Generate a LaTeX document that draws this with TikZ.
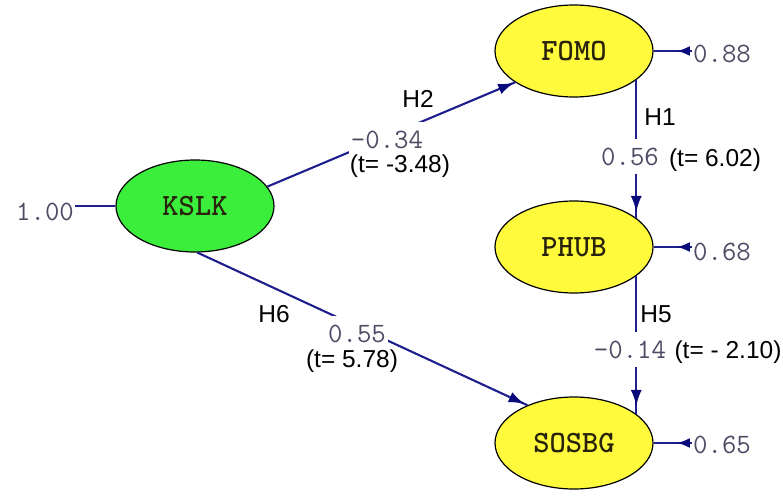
\documentclass[tikz,border=0pt]{standalone}
\usepackage{fontspec}
\setmainfont{Liberation Sans}
\usetikzlibrary{shapes.geometric,arrows.meta,decorations.markings}
\definecolor{pathblue}{RGB}{30,30,140}
\definecolor{tipblue}{RGB}{10,10,125}
\definecolor{numgray}{RGB}{80,75,100}
\definecolor{labelink}{RGB}{40,35,10}
\definecolor{latgreen}{RGB}{60,238,60}
\definecolor{latyellow}{RGB}{255,250,60}
\begin{document}
\begin{tikzpicture}[x=1pt,y=-1pt,
  latent/.style={ellipse, draw=black, line width=1.2pt, minimum width=158pt,
    minimum height=92pt, inner sep=0pt, text=labelink,
    font=\ttfamily\bfseries\fontsize{31}{31}\selectfont},
  est/.style={font=\ttfamily\fontsize{28}{28}\selectfont, text=numgray,
    inner sep=1pt, anchor=base},
  gapest/.style={est, fill=white, inner xsep=2pt, inner ysep=9pt},
  tval/.style={font=\fontsize{24.5}{24.5}\selectfont, inner sep=0pt, anchor=base},
  link/.style={draw=pathblue, line width=2.1pt},
  headat/.style={postaction={decorate}, decoration={markings,
    mark=at position #1 with {\arrow[tipblue]{Latex[length=16pt,width=11pt]}}}},
  reshead/.style={postaction={decorate}, decoration={markings,
    mark=at position #1 with {\arrow[tipblue]{Latex[length=13pt,width=10pt]}}}},
]
\useasboundingbox (0,0) rectangle (783,495);

% latent variables
\node[latent, fill=latgreen]  (kslk)  at (195,206) {KSLK};
\node[latent, fill=latyellow] (fomo)  at (574,51)  {FOMO};
\node[latent, fill=latyellow] (phub)  at (574,247) {PHUB};
\node[latent, fill=latyellow] (sosbg) at (574,443) {SOSBG};

% variances / residuals
\node[est] (e0) at (45,220)  {1.00};
\node[est] (r1) at (722,63)  {0.88};
\node[est] (r2) at (722,260) {0.68};
\node[est] (r3) at (722,453) {0.65};

% structural paths
\draw[link] (e0.east |- kslk.west) -- (kslk.west);
\draw[link, headat=-1pt] (kslk.15) -- (fomo.208);
\draw[link, headat=-3pt] (kslk.-87) -- (sosbg.141);
\draw[link, headat=-6pt] (fomo.-25.6) -- (phub.25.6);
\draw[link, headat=-8pt] (phub.-25.6) -- (sosbg.25.6);

% residual arrows
\draw[link, reshead=15pt] (r1.west |- fomo.east) -- (fomo.east);
\draw[link, reshead=15pt] (r2.west |- phub.east) -- (phub.east);
\draw[link, reshead=15pt] (r3.west |- sosbg.east) -- (sosbg.east);

% path estimates sitting on the lines
\node[gapest] (b2) at (387,148) {-0.34};
\node[gapest] (b6) at (357,342) {0.55};
\node[gapest] (b1) at (630,165) {0.56};
\node[gapest] (b5) at (630,358) {-0.14};

% hypothesis names and t-values
\node[tval] (h2) at (418,107) {H2};
\node[tval] (t2) at (400,172) {(t= -3.48)};
\node[tval] (h6) at (274,322) {H6};
\node[tval] (t6) at (352,367) {(t= 5.78)};
\node[tval] (h1) at (660,125) {H1};
\node[tval] (t1) at (715,166) {(t= 6.02)};
\node[tval] (h5) at (656,322) {H5};
\node[tval] (t5) at (728,358) {(t= - 2.10)};
\end{tikzpicture}
\end{document}
